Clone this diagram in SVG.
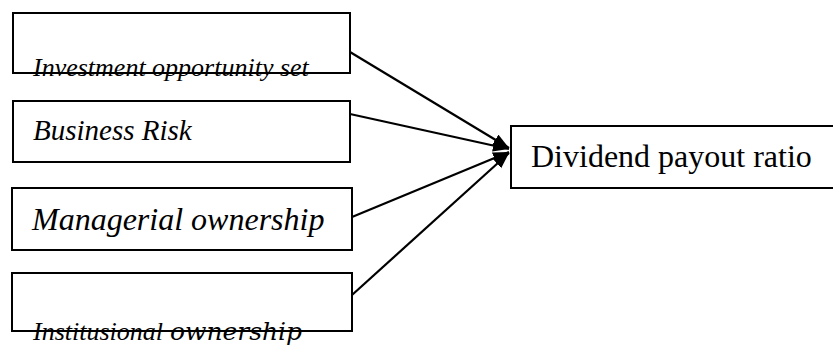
<svg xmlns="http://www.w3.org/2000/svg" width="833" height="345" viewBox="0 0 833 345">
<style>
.box{fill:#fff;stroke:#000;stroke-width:2}
.lbl{font-family:"Liberation Serif","Times New Roman",serif;font-style:italic;fill:#000}
.plain{font-family:"Liberation Serif","Times New Roman",serif;fill:#000}
.conn{stroke:#000;stroke-width:2.2;fill:none;marker-end:url(#ah)}
</style>
<defs>
<marker id="ah" markerUnits="userSpaceOnUse" markerWidth="18" markerHeight="14" refX="16" refY="6" orient="auto">
<path d="M0,0 L16,6 L0,12 Z" fill="#000"/>
</marker>
</defs>
<rect width="833" height="345" fill="#fff"/>
<g id="connectors">
<line class="conn" x1="350" y1="52" x2="509" y2="148"/>
<line class="conn" x1="350" y1="114" x2="509" y2="149"/>
<line class="conn" x1="352" y1="217" x2="509" y2="152"/>
<line class="conn" x1="352" y1="295" x2="509" y2="153"/>
</g>
<g id="n1">
<rect class="box" x="13" y="13" width="337" height="60"/>
<text class="lbl" x="33" y="76" font-size="26">Investment opportunity set</text>
</g>
<g id="n2">
<rect class="box" x="13" y="101" width="337" height="61"/>
<text class="lbl" x="33" y="140" font-size="29">Business Risk</text>
</g>
<g id="n3">
<rect class="box" x="12" y="188" width="340" height="62"/>
<text class="lbl" x="32" y="230" font-size="32">Managerial ownership</text>
</g>
<g id="n4">
<rect class="box" x="12" y="273" width="340" height="58"/>
<text x="33" y="340"><tspan class="lbl" font-size="26">Institusional</tspan><tspan x="170" font-family="'DejaVu Serif',serif" font-style="italic" font-size="24" textLength="132" lengthAdjust="spacingAndGlyphs">ownership</tspan></text>
</g>
<g id="n5">
<rect class="box" x="511" y="126" width="330" height="62"/>
<text class="plain" x="531" y="167" font-size="32">Dividend payout ratio</text>
</g>
</svg>
